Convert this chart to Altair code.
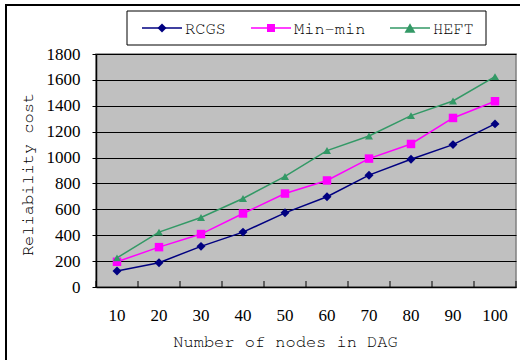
import altair as alt
import pandas as pd

# ---- data ----
nodes = [10, 20, 30, 40, 50, 60, 70, 80, 90, 100]
series_names = ["RCGS", "Min-min", "HEFT"]
rcgs = [123, 188, 314, 424, 573, 697, 864, 987, 1100, 1260]
minmin = [195, 308, 409, 568, 722, 823, 992, 1105, 1306, 1435]
heft = [225, 424, 537, 684, 854, 1054, 1167, 1324, 1437, 1625]
y_ticks = [0, 200, 400, 600, 800, 1000, 1200, 1400, 1600, 1800]

colors = ["#000080", "#FF00FF", "#339966"]
shapes = ["diamond", "square", "triangle-up"]
sizes = [80, 64, 120]

rows = []
for name, vals in zip(series_names, [rcgs, minmin, heft]):
    for n, v in zip(nodes, vals):
        rows.append({"series": name, "nodes": n, "value": v})
df = pd.DataFrame(rows)
df_nodes = pd.DataFrame({"nodes": nodes})
df_one = pd.DataFrame({"k": [0]})

W, H = 420, 233
MONO = "FreeMono"
SERIF = "Liberation Serif"

x_enc = alt.X(
    "nodes:O",
    scale=alt.Scale(type="band", paddingInner=0, paddingOuter=0),
    sort=nodes,
    axis=alt.Axis(
        title="Number of nodes in DAG",
        labelAngle=0,
        ticks=False,
        labelPadding=20,
        labelFont=SERIF,
        labelFontSize=17,
        labelColor="#000000",
        domainColor="#000000",
        domainWidth=1.5,
        titleFont=MONO,
        titleFontSize=17,
        titleFontWeight="normal",
        titleColor="#000000",
        titleX=189,
        titleY=59,
        titleAlign="center",
        titleBaseline="alphabetic",
        grid=False,
    ),
)
y_enc = alt.Y(
    "value:Q",
    scale=alt.Scale(domain=[0, 1800], nice=False),
    axis=alt.Axis(
        title="Reliability cost",
        values=y_ticks,
        format="d",
        labelOverlap=False,
        tickSize=4,
        tickColor="#000000",
        labelPadding=12,
        labelFont=SERIF,
        labelFontSize=17,
        labelColor="#000000",
        domainColor="#000000",
        domainWidth=1.5,
        grid=True,
        gridColor="#000000",
        gridWidth=1,
        gridOpacity=1,
        titleFont=MONO,
        titleFontSize=17,
        titleFontWeight="normal",
        titleColor="#000000",
        titleX=-69,
        titleY=120,
        titleAngle=270,
        titleAlign="center",
        titleBaseline="middle",
    ),
)

color_enc = alt.Color("series:N", scale=alt.Scale(domain=series_names, range=colors), legend=None)
shape_enc = alt.Shape("series:N", scale=alt.Scale(domain=series_names, range=shapes), legend=None)
size_enc = alt.Size("series:N", scale=alt.Scale(domain=series_names, range=sizes), legend=None)

base = alt.Chart(df)
lines = base.mark_line(strokeWidth=1.5).encode(x=x_enc, y=y_enc, color=color_enc, detail="series:N")
points = base.mark_point(filled=True, opacity=1).encode(
    x=x_enc, y=y_enc, color=color_enc, shape=shape_enc, size=size_enc
)

# inward x-axis ticks at category boundaries
xticks = alt.Chart(df_nodes).mark_rule(color="#000000", strokeWidth=1).encode(
    x=alt.X("nodes:O", sort=nodes, bandPosition=0),
    y=alt.value(H - 6),
    y2=alt.value(H),
)
last_tick = alt.Chart(df_one).mark_rule(color="#000000", strokeWidth=1).encode(
    x=alt.value(W), y=alt.value(H - 6), y2=alt.value(H)
)

# outer chart border
outer = alt.Chart(df_one).mark_rect(fill=None, stroke="#000000", strokeWidth=2).encode(
    x=alt.value(-90), x2=alt.value(440), y=alt.value(-49), y2=alt.value(320)
)

# legend
legend_box = alt.Chart(df_one).mark_rect(fill="#FFFFFF", stroke="#000000", strokeWidth=1).encode(
    x=alt.value(31), x2=alt.value(390), y=alt.value(-43), y2=alt.value(-9)
)
leg_layers = [legend_box]
leg_y = -26
leg_x0 = [46, 155, 294]
for name, col, shp, sz, lx in zip(series_names, colors, shapes, sizes, leg_x0):
    leg_layers.append(
        alt.Chart(df_one).mark_rule(color=col, strokeWidth=1.5).encode(
            x=alt.value(lx), x2=alt.value(lx + 40), y=alt.value(leg_y)
        )
    )
    leg_layers.append(
        alt.Chart(df_one).mark_point(filled=True, opacity=1, color=col, shape=shp, size=sz).encode(
            x=alt.value(lx + 20), y=alt.value(leg_y)
        )
    )
    leg_layers.append(
        alt.Chart(df_one).mark_text(
            align="left", baseline="middle", font=MONO, fontSize=17, color="#000000"
        ).encode(x=alt.value(lx + 43), y=alt.value(leg_y + 1), text=alt.value(name))
    )

chart = (
    alt.layer(outer, lines, xticks, last_tick, points, *leg_layers)
    .properties(
        width=W,
        height=H,
        autosize=alt.AutoSizeParams(type="none"),
        padding={"left": 96, "top": 54, "right": 4, "bottom": 73},
        background="#FFFFFF",
    )
    .configure_view(fill="#C0C0C0", stroke="#808080", strokeWidth=1.5)
)

chart.save("out.html", embed_options={"renderer": "svg", "actions": False})
